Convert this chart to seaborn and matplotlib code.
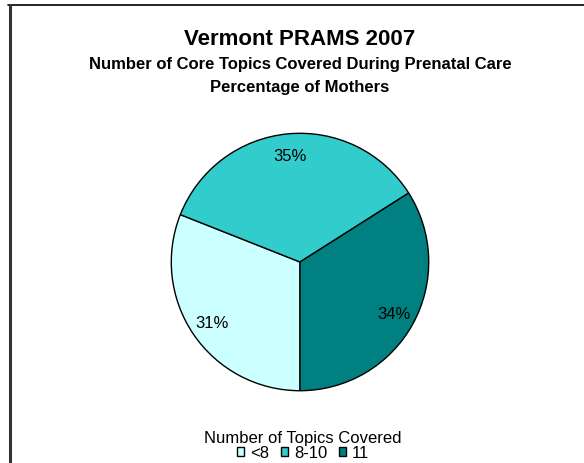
import matplotlib
matplotlib.use("Agg")
import matplotlib.pyplot as plt
from matplotlib.patches import Patch
from matplotlib.lines import Line2D
import seaborn as sns

# Data
categories = ["<8", "8-10", "11"]
percentages = [31, 35, 34]
colors = ["#CCFFFF", "#33CCCC", "#008080"]
title = "Vermont PRAMS 2007"
subtitle1 = "Number of Core Topics Covered During Prenatal Care"
subtitle2 = "Percentage of Mothers"
legend_title = "Number of Topics Covered"

sns.set_theme(style="white")
plt.rcParams['font.family'] = ['Liberation Sans', 'DejaVu Sans']
plt.rcParams['text.color'] = 'black'

W, H = 584, 464
fig = plt.figure(figsize=(W / 100, H / 100), dpi=100)
fig.patch.set_facecolor("white")

def px(x, y):
    return x / W, 1 - y / H

# frame lines (top and left)
fig.add_artist(Line2D([8 / W, 1.0], [1 - 5.5 / H, 1 - 5.5 / H], transform=fig.transFigure,
                      color="black", lw=1.2))
fig.add_artist(Line2D([9.5 / W, 9.5 / W], [0, 1 - 5.5 / H], transform=fig.transFigure,
                      color="#333333", lw=2.2))

# Pie axes
cx, cy, r = 300, 263, 130
ax = fig.add_axes([(cx - r) / W, 1 - (cy + r) / H, 2 * r / W, 2 * r / H])
palette = sns.color_palette(colors)
wedges, texts, autotexts = ax.pie(
    percentages, colors=palette, startangle=270, counterclock=False,
    autopct=lambda p: f"{p:.0f}%", pctdistance=0.83,
    wedgeprops=dict(edgecolor="black", linewidth=1.0),
    textprops=dict(fontsize=12, color="black"))
ax.set_xlim(-1.01, 1.01)
ax.set_ylim(-1.01, 1.01)
ax.set_aspect("equal")
ax.axis("off")

# Titles
fig.text(*px(300, 45), title, ha="center", va="baseline", fontsize=16, fontweight="bold")
fig.text(*px(300, 69.5), subtitle1, ha="center", va="baseline", fontsize=12, fontweight="bold")
fig.text(*px(300, 92), subtitle2, ha="center", va="baseline", fontsize=12, fontweight="bold")

# Legend
handles = [Patch(facecolor=c, edgecolor="black", linewidth=1.0) for c in palette]
leg = fig.legend(handles, categories, loc="center", bbox_to_anchor=px(303, 446),
                 ncol=3, frameon=False, title=legend_title, fontsize=12,
                 title_fontsize=12, handlelength=0.45, handleheight=0.45,
                 handletextpad=0.35, columnspacing=0.7, borderpad=0, labelspacing=0)
leg._legend_box.sep = 0

fig.savefig("out.png", dpi=100, facecolor="white")
